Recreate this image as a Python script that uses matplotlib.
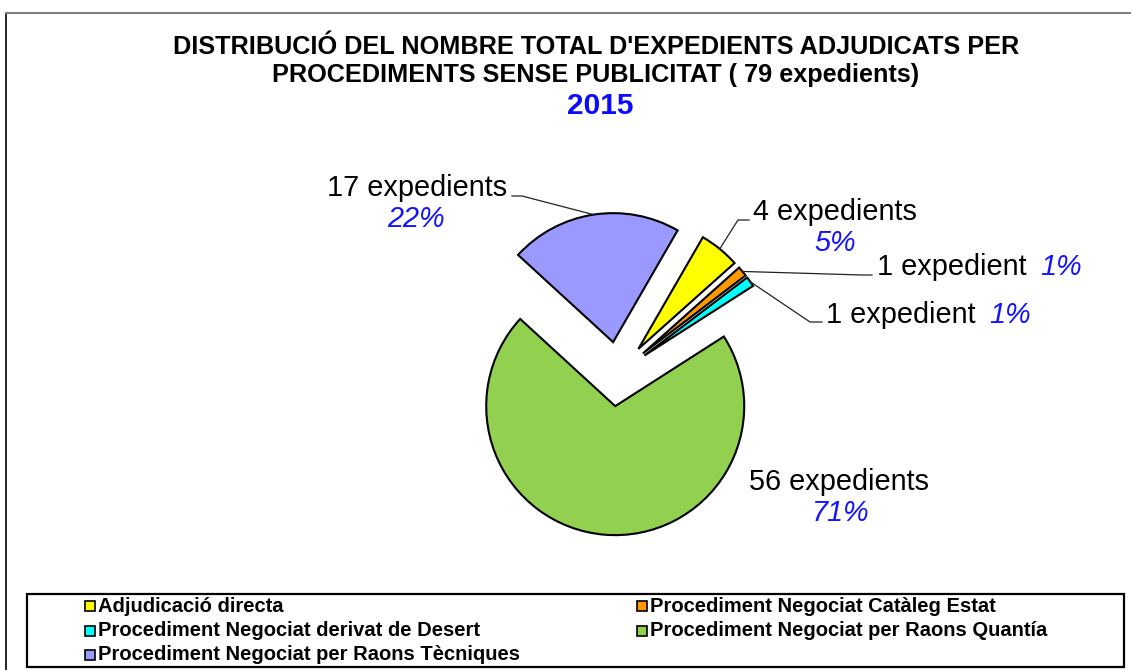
import numpy as np
import matplotlib
matplotlib.use("Agg")
import matplotlib.pyplot as plt
from matplotlib.patches import Rectangle
from matplotlib.lines import Line2D

# data
categories = ["Adjudicació directa",
              "Procediment Negociat Catàleg Estat",
              "Procediment Negociat derivat de Desert",
              "Procediment Negociat per Raons Quantía",
              "Procediment Negociat per Raons Tècniques"]
counts = [4, 1, 1, 56, 17]
colors = ["#FFFF00", "#FF9900", "#00FFFF", "#92D050", "#9999FF"]
title_lines = ["DISTRIBUCIÓ DEL NOMBRE TOTAL D'EXPEDIENTS ADJUDICATS PER",
               "PROCEDIMENTS SENSE PUBLICITAT ( 79 expedients)"]
year = "2015"

W, H = 1131, 670
CX, CY, R = 618, 374, 129   # pie centre / radius in pixels

plt.rcParams["font.family"] = ["Liberation Sans", "DejaVu Sans"]
fig = plt.figure(figsize=(W / 100, H / 100), dpi=100)
ax = fig.add_axes([0, 0, 1, 1])
ax.axis("off")


def d(px, py):
    # pixel position -> data coords of the pie axes
    return (px - CX) / R, (CY - py) / R


def fx(px):
    return px / W


def fy(py):
    return 1 - py / H


wedges, _ = ax.pie(counts, colors=colors, explode=[0.25] * len(counts), radius=1,
                   startangle=60, counterclock=False,
                   wedgeprops=dict(edgecolor="black", linewidth=1.5))
ax.set_aspect("auto")
ax.set_xlim(-CX / R, (W - CX) / R)
ax.set_ylim(-(H - CY) / R, CY / R)

total = sum(counts)
blue = "#1414FF"
lbl_fs = 20.8

# label layout: text anchor px, percent anchor px, leader elbow px
layouts = [
    dict(txt=(835, 212), pct=(835, 243), elbow=[(738, 220), (749, 220)]),
    dict(txt=(877, 267), pct=None, elbow=[(862, 275), (872, 275)]),
    dict(txt=(826, 315), pct=None, elbow=[(810, 322), (822, 322)]),
    dict(txt=(839, 482), pct=(840, 513), elbow=None),
    dict(txt=(417, 188), pct=(416, 219), elbow=[(522, 196), (512, 196)]),
]

for w, n, lay in zip(wedges, counts, layouts):
    name = f"{n} expedients" if n > 1 else f"{n} expedient"
    pct = f"{round(n / total * 100)}%"
    if lay["elbow"] is not None:
        mid = np.deg2rad((w.theta1 + w.theta2) / 2)
        x0 = w.center[0] + w.r * np.cos(mid)
        y0 = w.center[1] + w.r * np.sin(mid)
        pts = [(x0, y0)] + [d(*p) for p in lay["elbow"]]
        ax.plot([p[0] for p in pts], [p[1] for p in pts], color="#222222", lw=0.9)
    if lay["pct"] is not None:
        ax.text(*d(*lay["txt"]), name, ha="center", va="center", fontsize=lbl_fs)
        ax.text(*d(*lay["pct"]), pct, ha="center", va="center", fontsize=lbl_fs,
                style="italic", color=blue)
    else:
        t = ax.text(*d(*lay["txt"]), name, ha="left", va="center", fontsize=lbl_fs)
        ax.annotate(pct, xy=(1, 0.5), xycoords=t, xytext=(10, 0),
                    textcoords="offset points", ha="left", va="center",
                    fontsize=lbl_fs, style="italic", color=blue)

# titles
fig.text(fx(596), fy(47), title_lines[0], ha="center", va="center",
         fontsize=18.2, fontweight="bold")
fig.text(fx(596), fy(75), title_lines[1], ha="center", va="center",
         fontsize=18.2, fontweight="bold")
fig.text(fx(600), fy(106), year, ha="center", va="center",
         fontsize=21.5, fontweight="bold", color="#0A0AFF")

# chart frame (left and top only visible)
fig.add_artist(Line2D([fx(6), fx(6)], [fy(13), fy(670)], color="black", lw=1.2))
fig.add_artist(Line2D([fx(6), fx(1131)], [fy(13), fy(13)], color="#808080", lw=1.5))

# legend box, rows filled left to right
fig.add_artist(Rectangle((fx(27), fy(667)), fx(1124) - fx(27), fy(594) - fy(667),
                         transform=fig.transFigure, fill=False, edgecolor="black", lw=1.6))
col_x = [85, 637]
row_y = [606, 630.5, 654.5]
for i, (lab, c) in enumerate(zip(categories, colors)):
    x = col_x[i % 2]
    y = row_y[i // 2]
    fig.add_artist(Rectangle((fx(x), fy(y + 5)), 10 / W, 10 / H,
                             transform=fig.transFigure, facecolor=c,
                             edgecolor="black", lw=1.2))
    fig.text(fx(x + 13), fy(y), lab, ha="left", va="center",
             fontsize=14.5, fontweight="bold")

fig.savefig("out.png", dpi=100)
